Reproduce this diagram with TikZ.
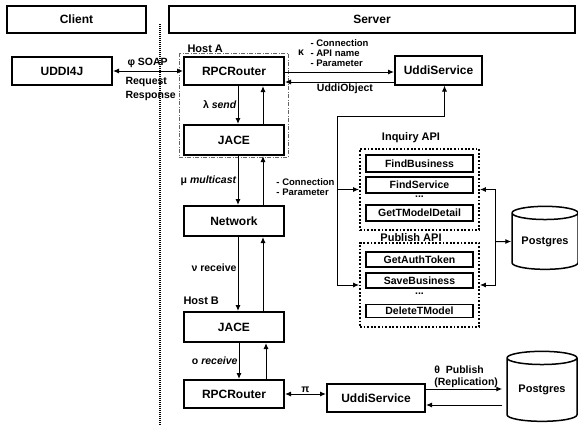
\documentclass[tikz,border=0pt]{standalone}
\usepackage{fontspec}
\setmainfont{Liberation Sans}
\usetikzlibrary{shapes.geometric, arrows.meta}
\tikzset{
every picture/.style={line width=1pt, >={Latex[length=6pt,width=5pt]}},
%%%%%%%%%%  Node styles
headbox/.style={draw, line width=1.2pt, minimum height=27pt, inner sep=0pt,
                font=\fontsize{12}{14}\selectfont\bfseries},
block/.style={draw, line width=2pt, minimum width=100pt, minimum height=28pt,
              inner sep=0pt, font=\fontsize{12}{14}\selectfont\bfseries},
apibox/.style={draw, line width=1.8pt, minimum width=107pt, inner sep=0pt,
               font=\fontsize{10.5}{12}\selectfont\bfseries},
apigroup/.style={draw, line width=1.8pt, dash pattern=on 1.8pt off 1.8pt,
                 minimum width=119pt, inner sep=0pt},
database/.style={draw, cylinder, shape border rotate=90, aspect=0.28,
                 line width=1.5pt, inner sep=0pt,
                 font=\fontsize{11}{13}\selectfont\bfseries},
lbl/.style={font=\fontsize{10.5}{12}\selectfont\bfseries, inner sep=1pt},
small_lbl/.style={font=\fontsize{9.5}{10}\selectfont\bfseries, inner sep=1pt},
%%%% different line styles:
hosta/.style={draw=black!60, thin, dash pattern=on 4pt off 1.5pt on 1pt off 1.5pt},
hostb/.style={draw, double, double distance=1.4pt, line width=0.6pt},
boundary/.style={line width=1.6pt, dash pattern=on 1pt off 1pt}
}

\begin{document}
\begin{tikzpicture}[x=1pt,y=-1pt]
\useasboundingbox (0,0) rectangle (578,426);
%%headers
\node[headbox, minimum width=139pt] (client) at (76.5,19.5) {Client};
\node[headbox, minimum width=406pt] (server) at (372,19.5) {Server};
\draw[boundary] (160,24) -- (160,426);
%%%%%%%%%%%%%%%%%%%%%%%
%%host A
\draw[hosta] (179,53) rectangle (288,157);
\node[lbl, anchor=base west, font=\fontsize{11}{13}\selectfont\bfseries] (hostA) at (186,52) {Host A};
\node[block] (uddi4j) at (62,71) {UDDI4J};
\node[block] (rpcA) at (234,71) {RPCRouter};
\node[block, minimum height=30pt] (jaceA) at (234,140) {JACE};
\node[block, minimum height=30pt] (network) at (234,221) {Network};
%%host B
\node[lbl, anchor=base west, font=\fontsize{11}{13}\selectfont\bfseries] (hostB) at (182,304) {Host B};
\draw[hostb] (181,308) rectangle (288,413);
\node[block, minimum height=30pt] (jaceB) at (234,327) {JACE};
\node[block] (rpcB) at (234,394) {RPCRouter};
%%uddi services
\node[block, minimum width=87pt, minimum height=29pt] (usvA) at (438.5,70) {UddiService};
\node[block, minimum width=98pt] (usvB) at (376,398) {UddiService};
%%%%%%%%%%%%%%%%%%%%%%%
%%inquiry API
\node[apigroup, minimum height=81pt] (inqbox) at (419.5,189.5) {};
\node[lbl, font=\fontsize{11}{13}\selectfont\bfseries] (inqlbl) at (411,138) {Inquiry API};
\node[apibox, minimum height=17pt] (findbus) at (419.5,163.5) {FindBusiness};
\node[apibox, minimum height=16pt] (findsvc) at (419.5,185) {FindService};
\node[lbl] (dotsA) at (419.5,197) {...};
\node[apibox, minimum height=16pt] (gettm) at (419.5,213) {GetTModelDetail};
%%publish API
\node[apigroup, minimum height=84pt] (pubbox) at (419.5,285) {};
\node[lbl, font=\fontsize{11}{13}\selectfont\bfseries] (publbl) at (411,238) {Publish API};
\node[apibox, minimum height=15pt] (getauth) at (419.5,259.5) {GetAuthToken};
\node[apibox, minimum height=15pt] (savebus) at (419.5,280.5) {SaveBusiness};
\node[lbl] (dotsB) at (419.5,294) {...};
\node[apibox, minimum height=13pt] (deltm) at (419.5,311) {DeleteTModel};
%%databases
\node[database, minimum width=66pt, minimum height=63pt] (pgA) at (545,241.5) {Postgres};
\node[database, minimum width=70pt, minimum height=70pt] (pgB) at (542,390) {Postgres};
%%%%%%%%%%%%%%%%%%%%%%%
%%client to host A
\draw[<->] (uddi4j) -- (rpcA);
\node[lbl, anchor=south west] (soap) at (126,69) {φ SOAP};
\node[lbl, anchor=north west, align=left, font=\fontsize{10.5}{14}\selectfont\bfseries] (reqres) at (124,76) {Request\\Response};
%%host A down to host B
\draw[->] ([xshift=4pt]rpcA.south) -- node[lbl, left] {λ \textit{send}} ([xshift=4pt]jaceA.north);
\draw[->] ([xshift=29pt]jaceA.north) -- ([xshift=29pt]rpcA.south);
\draw[->] ([xshift=4pt]jaceA.south) -- node[lbl, left] {μ \textit{multicast}} ([xshift=4pt]network.north);
\draw[->] ([xshift=29pt]network.north) -- ([xshift=29pt]jaceA.south);
\draw[->] ([xshift=4pt]network.south) -- node[lbl, left, pos=0.42] {ν receive} ([xshift=4pt]jaceB.north);
\draw[->] ([xshift=29pt]jaceB.north) -- ([xshift=29pt]network.south);
\draw[->] ([xshift=5pt]jaceB.south) -- node[lbl, left] {ο \textit{receive}} ([xshift=5pt]rpcB.north);
\draw[->] ([xshift=32pt]rpcB.north) -- ([xshift=32pt]jaceB.south);
%%router A to uddi service
\coordinate (kr) at ([yshift=-1pt]rpcA.east);
\coordinate (ko) at ([yshift=-11pt]rpcA.east);
\draw[->] (kr) -- (kr -| usvA.west);
\draw[->] (ko -| usvA.west) -- node[lbl, below, pos=0.45] {UddiObject} (ko);
\node[lbl] (kappa) at (301,53) {κ};
\node[small_lbl, anchor=west, align=left] (kargs) at (309,53) {- Connection\\- API name\\- Parameter};
%%uddi service to the APIs
\coordinate (fork) at (337,116);
\draw[->] (fork) -| ([xshift=6pt]usvA.south);
\draw[->] (fork) |- (pubbox.west);
\draw[->] (fork |- inqbox.west) -- (inqbox.west);
\node[small_lbl, anchor=east, align=left] (cparg) at (336,187) {- Connection\\- Parameter};
%%APIs to postgres
\coordinate (dbbus) at (495,241.5);
\draw[->] (dbbus) |- (inqbox.east);
\draw[->] (dbbus) |- (pubbox.east);
\draw[->] (dbbus) -- (pgA.west);
%%host B to uddi service and postgres
\draw[<->] (rpcB.east) -- node[lbl, above] {π} (rpcB.east -| usvB.west);
\coordinate (pu) at ([yshift=9pt]usvB.east);
\coordinate (pd) at ([yshift=-7pt]usvB.east);
\draw[->, shorten >=4pt] (pu) -- node[lbl, above, align=left] {θ\ \ Publish\\(Replication)} (pu -| pgB.west);
\draw[->, shorten <=4pt] (pd -| pgB.west) -- (pd);
\end{tikzpicture}
\end{document}
